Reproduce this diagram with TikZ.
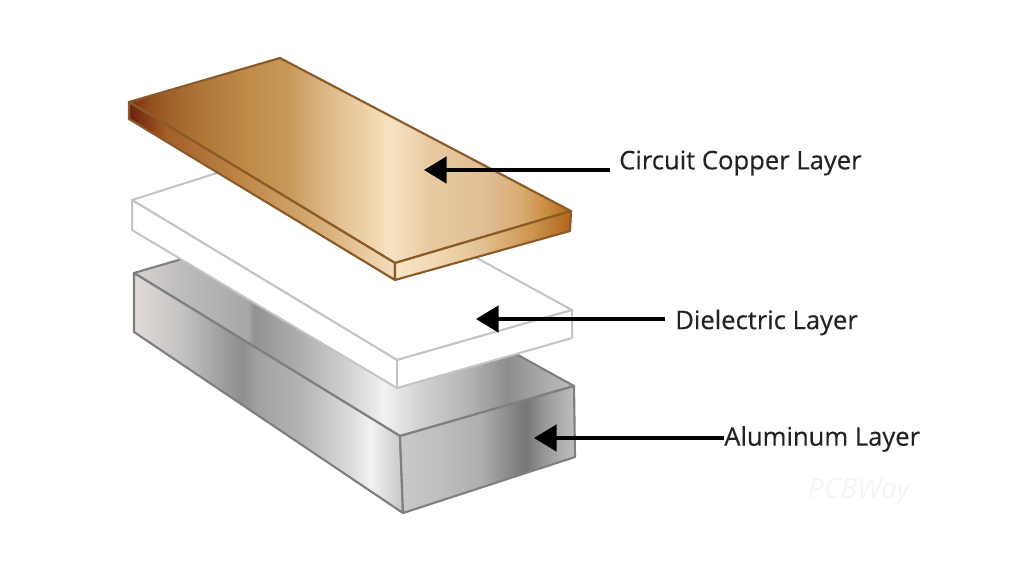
\documentclass[tikz,border=0pt]{standalone}
\usepackage{fontspec}
\setmainfont{Open Sans}
\newfontfamily\labelfont{Open Sans}[FakeBold=0.25]
\usetikzlibrary{arrows.meta}
% stops: 25bp = left edge of the bounding box, 75bp = right edge
\pgfdeclarehorizontalshading{cutop}{100bp}{
rgb(0bp)=(0.47,0.18,0.08);
rgb(25bp)=(0.47,0.18,0.08);
rgb(27.4bp)=(0.58,0.31,0.12);
rgb(29.5bp)=(0.63,0.38,0.17);
rgb(33bp)=(0.68,0.46,0.21);
rgb(38.7bp)=(0.75,0.55,0.29);
rgb(43bp)=(0.78,0.60,0.35);
rgb(47.7bp)=(0.87,0.73,0.54);
rgb(53.3bp)=(0.95,0.86,0.70);
rgb(54bp)=(0.97,0.89,0.76);
rgb(56bp)=(0.95,0.86,0.73);
rgb(59bp)=(0.91,0.79,0.63);
rgb(65bp)=(0.88,0.75,0.59);
rgb(69.4bp)=(0.85,0.67,0.44);
rgb(72.2bp)=(0.79,0.55,0.25);
rgb(75bp)=(0.69,0.41,0.10);
rgb(100bp)=(0.69,0.41,0.10)}
\pgfdeclarehorizontalshading{culeft}{100bp}{
rgb(0bp)=(0.42,0.14,0.07);
rgb(25bp)=(0.42,0.14,0.07);
rgb(29bp)=(0.55,0.25,0.10);
rgb(32bp)=(0.64,0.37,0.16);
rgb(47bp)=(0.75,0.54,0.29);
rgb(62bp)=(0.85,0.69,0.48);
rgb(75bp)=(0.96,0.87,0.74);
rgb(100bp)=(0.96,0.87,0.74)}
\pgfdeclarehorizontalshading{curight}{100bp}{
rgb(0bp)=(0.97,0.90,0.78);
rgb(25bp)=(0.97,0.90,0.78);
rgb(38bp)=(0.94,0.84,0.68);
rgb(49bp)=(0.89,0.76,0.58);
rgb(64bp)=(0.80,0.58,0.31);
rgb(75bp)=(0.69,0.40,0.10);
rgb(100bp)=(0.69,0.40,0.10)}
\pgfdeclarehorizontalshading{altop}{100bp}{
rgb(0bp)=(0.85,0.84,0.83);
rgb(25bp)=(0.85,0.84,0.83);
rgb(30bp)=(0.75,0.74,0.74);
rgb(38bp)=(0.66,0.65,0.66);
rgb(38.6bp)=(0.58,0.57,0.58);
rgb(44bp)=(0.69,0.68,0.69);
rgb(49bp)=(0.82,0.81,0.82);
rgb(53.5bp)=(0.95,0.95,0.95);
rgb(57bp)=(0.84,0.83,0.84);
rgb(63bp)=(0.71,0.70,0.71);
rgb(67.5bp)=(0.56,0.55,0.56);
rgb(71bp)=(0.66,0.65,0.66);
rgb(75bp)=(0.75,0.75,0.75);
rgb(100bp)=(0.75,0.75,0.75)}
\pgfdeclarehorizontalshading{alleft}{100bp}{
rgb(0bp)=(0.88,0.86,0.85);
rgb(25bp)=(0.88,0.86,0.85);
rgb(34bp)=(0.77,0.76,0.76);
rgb(45bp)=(0.56,0.55,0.56);
rgb(48bp)=(0.64,0.63,0.64);
rgb(56bp)=(0.71,0.70,0.71);
rgb(65bp)=(0.86,0.86,0.86);
rgb(69bp)=(0.95,0.95,0.95);
rgb(75bp)=(0.78,0.78,0.78);
rgb(100bp)=(0.78,0.78,0.78)}
\pgfdeclarehorizontalshading{alright}{100bp}{
rgb(0bp)=(0.79,0.78,0.79);
rgb(25bp)=(0.79,0.78,0.79);
rgb(36bp)=(0.75,0.75,0.75);
rgb(48bp)=(0.69,0.68,0.69);
rgb(56bp)=(0.55,0.54,0.55);
rgb(61bp)=(0.47,0.46,0.47);
rgb(66bp)=(0.60,0.59,0.60);
rgb(75bp)=(0.75,0.75,0.75);
rgb(100bp)=(0.75,0.75,0.75)}
\tikzset{
  cuface/.style={shade,draw=cuedge,line width=1.6pt,line join=round},
  alface/.style={shade,draw=aledge,line width=1.6pt,line join=round},
  diface/.style={fill=white,draw=diedge,line width=1.5pt,line join=round},
  layerlabel/.style={font=\labelfont\fontsize{19.2pt}{23pt}\selectfont,text=labeltext,inner sep=0pt,anchor=west},
  pointer/.style={line width=2.3pt,draw=black,-{Triangle[length=17pt,width=20pt]}},
}
\definecolor{cuedge}{HTML}{8A5A28}
\definecolor{aledge}{HTML}{7F7F7F}
\definecolor{diedge}{HTML}{C4C4C4}
\definecolor{labeltext}{HTML}{222222}
\definecolor{markfaint}{HTML}{F5F5F5}
\begin{document}
\begin{tikzpicture}[x=0.75pt,y=-0.75pt]
\path[use as bounding box,fill=white] (0,0) rectangle (1016,576);
% aluminum
\path[alface,shading=altop] (134,273) -- (288,228) -- (574,386) -- (400,436) -- cycle;
\path[alface,shading=alleft] (134,273) -- (400,436) -- (403,513) -- (134,332) -- cycle;
\path[alface,shading=alright] (400,436) -- (574,386) -- (575,457) -- (403,513) -- cycle;
% dielectric
\path[diface] (132,200) -- (283,152) -- (572,310) -- (397,360) -- cycle;
\path[diface] (132,200) -- (397,360) -- (397,388) -- (132,230) -- cycle;
\path[diface] (397,360) -- (572,310) -- (572,338) -- (397,388) -- cycle;
% copper
\path[cuface,shading=cutop] (129,102) -- (280,58) -- (571,211) -- (395,263) -- cycle;
\path[cuface,shading=culeft] (129,102) -- (395,263) -- (395,280) -- (129,119) -- cycle;
\path[cuface,shading=curight] (395,263) -- (571,211) -- (570,231) -- (395,280) -- cycle;
% labels
\node[layerlabel] (cu) at (619,163) {Circuit Copper Layer};
\node[layerlabel] (di) at (675,322.5) {Dielectric Layer};
\node[layerlabel] (al) at (724,439) {Aluminum Layer};
\coordinate (cutip) at (424,170);
\coordinate (dutip) at (476,319);
\coordinate (altip) at (534,438);
\coordinate (custart) at (610,170);
\coordinate (dustart) at (665,319);
\coordinate (alstart) at (724,438);
\draw[pointer] (custart) -- (cutip);
\draw[pointer] (dustart) -- (dutip);
\draw[pointer] (alstart) -- (altip);
\node[font=\itshape\fontsize{21pt}{24pt}\selectfont,text=markfaint,inner sep=0pt] (wm) at (859,492) {PCBWay};
\end{tikzpicture}
\end{document}
